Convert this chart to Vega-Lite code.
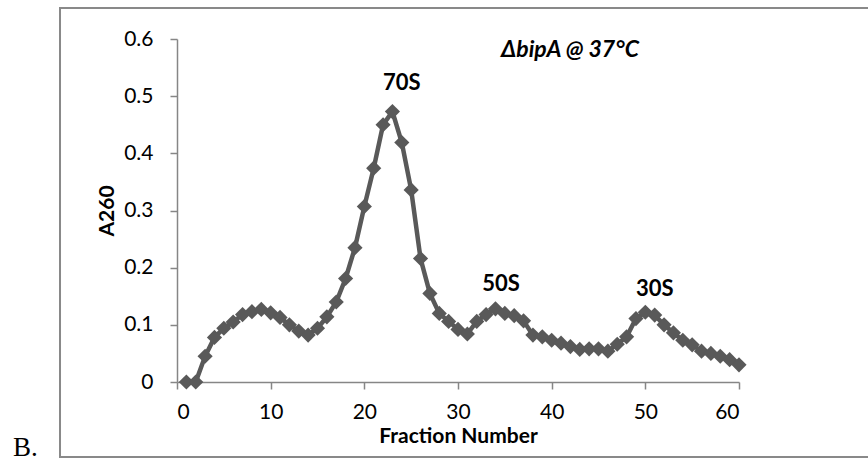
{
  "$schema": "https://vega.github.io/schema/vega-lite/v6.json",
  "autosize": "none",
  "width": 562,
  "height": 343,
  "padding": {"left": 177, "top": 39, "right": 129, "bottom": 83},
  "background": "white",
  "config": {
    "view": {"stroke": null},
    "font": "Lato",
    "axis": {
      "grid": false,
      "domainColor": "#868686",
      "domainWidth": 1.5,
      "tickColor": "#868686",
      "tickWidth": 1.5,
      "tickSize": 7,
      "labelFont": "Lato",
      "labelFontSize": 21,
      "labelColor": "black",
      "titleFont": "Lato",
      "titleFontSize": 21,
      "titleFontWeight": "bold",
      "titleColor": "black"
    }
  },
  "datasets": {
    "profile": [
      {"fraction": 1, "a260": 0},
      {"fraction": 2, "a260": 0},
      {"fraction": 3, "a260": 0.045},
      {"fraction": 4, "a260": 0.078},
      {"fraction": 5, "a260": 0.094},
      {"fraction": 6, "a260": 0.105},
      {"fraction": 7, "a260": 0.118},
      {"fraction": 8, "a260": 0.123},
      {"fraction": 9, "a260": 0.127},
      {"fraction": 10, "a260": 0.121},
      {"fraction": 11, "a260": 0.113},
      {"fraction": 12, "a260": 0.1},
      {"fraction": 13, "a260": 0.089},
      {"fraction": 14, "a260": 0.082},
      {"fraction": 15, "a260": 0.094},
      {"fraction": 16, "a260": 0.114},
      {"fraction": 17, "a260": 0.14},
      {"fraction": 18, "a260": 0.181},
      {"fraction": 19, "a260": 0.235},
      {"fraction": 20, "a260": 0.307},
      {"fraction": 21, "a260": 0.374},
      {"fraction": 22, "a260": 0.45},
      {"fraction": 23, "a260": 0.473},
      {"fraction": 24, "a260": 0.419},
      {"fraction": 25, "a260": 0.336},
      {"fraction": 26, "a260": 0.216},
      {"fraction": 27, "a260": 0.155},
      {"fraction": 28, "a260": 0.12},
      {"fraction": 29, "a260": 0.106},
      {"fraction": 30, "a260": 0.092},
      {"fraction": 31, "a260": 0.084},
      {"fraction": 32, "a260": 0.106},
      {"fraction": 33, "a260": 0.118},
      {"fraction": 34, "a260": 0.128},
      {"fraction": 35, "a260": 0.12},
      {"fraction": 36, "a260": 0.116},
      {"fraction": 37, "a260": 0.107},
      {"fraction": 38, "a260": 0.082},
      {"fraction": 39, "a260": 0.079},
      {"fraction": 40, "a260": 0.073},
      {"fraction": 41, "a260": 0.068},
      {"fraction": 42, "a260": 0.062},
      {"fraction": 43, "a260": 0.057},
      {"fraction": 44, "a260": 0.058},
      {"fraction": 45, "a260": 0.058},
      {"fraction": 46, "a260": 0.054},
      {"fraction": 47, "a260": 0.066},
      {"fraction": 48, "a260": 0.079},
      {"fraction": 49, "a260": 0.111},
      {"fraction": 50, "a260": 0.122},
      {"fraction": 51, "a260": 0.117},
      {"fraction": 52, "a260": 0.1},
      {"fraction": 53, "a260": 0.086},
      {"fraction": 54, "a260": 0.073},
      {"fraction": 55, "a260": 0.065},
      {"fraction": 56, "a260": 0.054},
      {"fraction": 57, "a260": 0.05},
      {"fraction": 58, "a260": 0.045},
      {"fraction": 59, "a260": 0.039},
      {"fraction": 60, "a260": 0.03}
    ],
    "peaks": [
      {"label": "70S", "fraction": 24.0, "a260": 0.511},
      {"label": "50S", "fraction": 34.6, "a260": 0.159},
      {"label": "30S", "fraction": 51.0, "a260": 0.15}
    ],
    "single": [{}]
  },
  "layer": [
    {
      "data": {"name": "single"},
      "mark": {"type": "rect", "fill": null, "stroke": "#898989", "strokeWidth": 2},
      "encoding": {
        "x": {"datum": -12.49, "type": "quantitative", "scale": {"domain": [0, 60]}},
        "x2": {"datum": 80},
        "y": {"datum": 0.6542, "type": "quantitative", "scale": {"domain": [0, 0.6]}},
        "y2": {"datum": -0.1312}
      }
    },
    {
      "data": {"name": "profile"},
      "mark": {"type": "line", "color": "#595959", "strokeWidth": 4.5},
      "encoding": {
        "x": {
          "field": "fraction", "type": "quantitative",
          "scale": {"domain": [0, 60]},
          "axis": {"values": [0, 10, 20, 30, 40, 50, 60], "title": "Fraction Number", "labelPadding": 12, "titlePadding": 3}
        },
        "y": {
          "field": "a260", "type": "quantitative",
          "scale": {"domain": [0, 0.6]},
          "axis": {"values": [0, 0.1, 0.2, 0.3, 0.4, 0.5, 0.6], "format": ".1~f", "title": "A260", "labelPadding": 17, "titlePadding": 6}
        }
      }
    },
    {
      "data": {"name": "profile"},
      "mark": {"type": "point", "shape": "diamond", "filled": true, "color": "#595959", "size": 230, "opacity": 1},
      "encoding": {
        "x": {"field": "fraction", "type": "quantitative", "scale": {"domain": [0, 60]}},
        "y": {"field": "a260", "type": "quantitative", "scale": {"domain": [0, 0.6]}}
      }
    },
    {
      "data": {"name": "peaks"},
      "mark": {"type": "text", "fontWeight": "bold", "fontSize": 22, "font": "Lato", "color": "black", "baseline": "alphabetic", "align": "center"},
      "encoding": {
        "x": {"field": "fraction", "type": "quantitative", "scale": {"domain": [0, 60]}},
        "y": {"field": "a260", "type": "quantitative", "scale": {"domain": [0, 0.6]}},
        "text": {"field": "label"}
      }
    },
    {
      "data": {"name": "single"},
      "mark": {"type": "text", "fontWeight": "bold", "fontStyle": "italic", "fontSize": 23, "font": "Lato", "color": "black", "baseline": "alphabetic", "align": "center"},
      "encoding": {
        "x": {"datum": 41.96, "type": "quantitative", "scale": {"domain": [0, 60]}},
        "y": {"datum": 0.5685, "type": "quantitative", "scale": {"domain": [0, 0.6]}},
        "text": {"value": "ΔbipA @ 37°C"}
      }
    },
    {
      "data": {"name": "single"},
      "mark": {"type": "text", "fontSize": 27, "font": "Liberation Serif", "color": "black", "baseline": "alphabetic", "align": "left"},
      "encoding": {
        "x": {"datum": -17.5, "type": "quantitative", "scale": {"domain": [0, 60]}},
        "y": {"datum": -0.129, "type": "quantitative", "scale": {"domain": [0, 0.6]}},
        "text": {"value": "B."}
      }
    }
  ]
}
